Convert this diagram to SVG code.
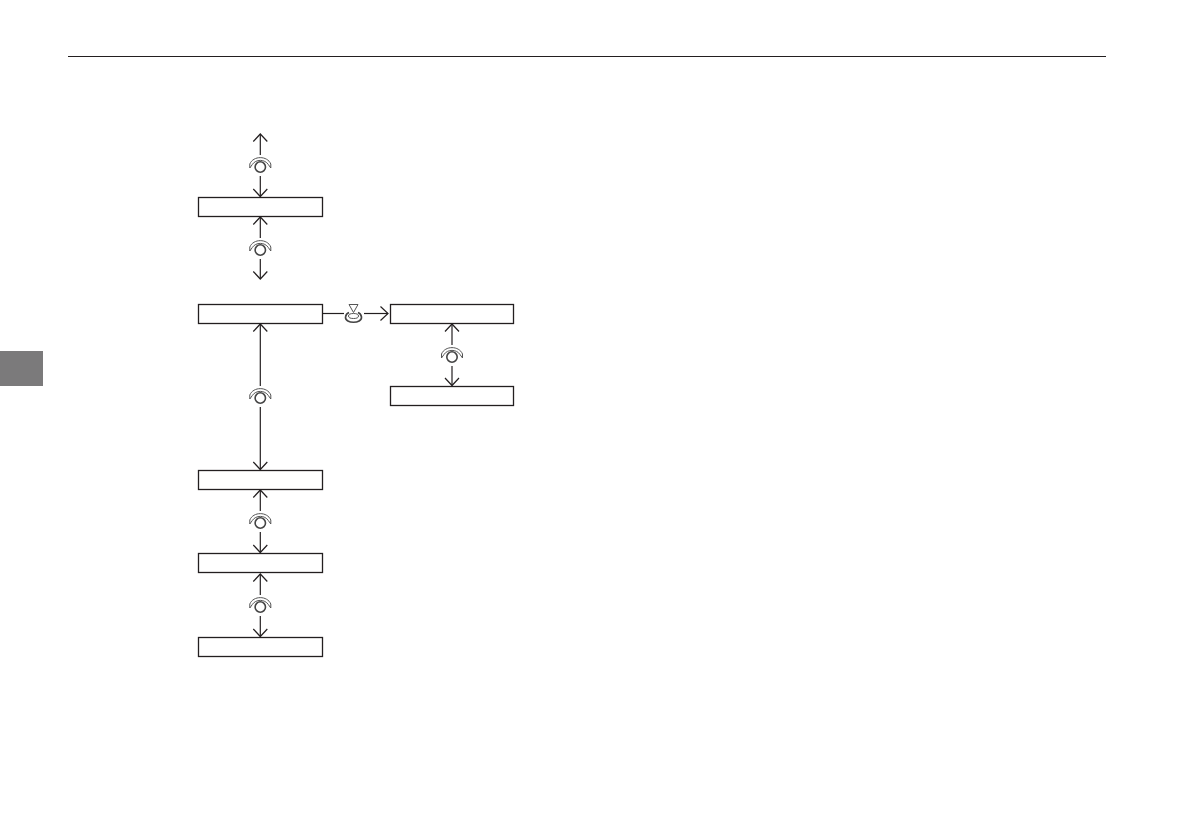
<svg xmlns="http://www.w3.org/2000/svg" width="1191" height="839" viewBox="0 0 1191 839">
<style>
.box{fill:#fff;stroke:#231f20;stroke-width:1.3}
.ln{fill:none;stroke:#231f20;stroke-width:1.2}
.ic{fill:none;stroke:#555;stroke-width:1}
.ic2{fill:none;stroke:#444;stroke-width:1.6}
</style>
<defs>
<marker id="arr" viewBox="-10 -8 11 16" refX="0" refY="0" markerWidth="11" markerHeight="16" markerUnits="userSpaceOnUse" orient="auto-start-reverse" overflow="visible"><path d="M-7.500 -7L0 0L-7.500 7" fill="none" stroke="#231f20" stroke-width="1.2"/></marker>
<g id="dial">
<circle class="ic2" cx="0" cy="0" r="5.200"/>
<path class="ic" d="M-10.500 -3C-7 -11.500 7 -11.500 10.500 -3M-8 -2.500C-4.500 -8 4.500 -8 8 -2.500M-10.500 -3L-10.500 1L-8 -2.500M10.500 -3L10.500 1L8 -2.500"/>
</g>
<g id="press">
<path class="ic" d="M-4.500 -9.500H4.500L0 -1.500Z"/>
<ellipse class="ic" cx="0" cy="2" rx="5" ry="2.500"/>
<path class="ic2" d="M-8 3C-8.500 10 8.500 10 8 3C7.500 0 6 -1 4.500 -1.500M-8 3C-7.500 0 -6 -1 -4.500 -1.500"/>
</g>
</defs>
<path d="M68 56.500H1106" stroke="#231f20" stroke-width="1" fill="none"/>
<rect x="0" y="351" width="43" height="35" fill="#7b7a7b"/>
<g id="connectors">
<path class="ln" marker-end="url(#arr)" d="M260.300 155V134"/>
<path class="ln" marker-end="url(#arr)" d="M260.300 176V196.500"/>
<path class="ln" marker-end="url(#arr)" d="M260.300 238V217"/>
<path class="ln" marker-end="url(#arr)" d="M260.300 259V279"/>
<path class="ln" marker-end="url(#arr)" d="M260.300 386V324"/>
<path class="ln" marker-end="url(#arr)" d="M260.300 407V469.500"/>
<path class="ln" marker-end="url(#arr)" d="M260.300 511V490"/>
<path class="ln" marker-end="url(#arr)" d="M260.300 532V552.500"/>
<path class="ln" marker-end="url(#arr)" d="M260.300 595V574"/>
<path class="ln" marker-end="url(#arr)" d="M260.300 616V636.500"/>
<path class="ln" d="M323 313.500H344"/>
<path class="ln" marker-end="url(#arr)" d="M364 313.500H388"/>
<path class="ln" marker-end="url(#arr)" d="M452 345V324"/>
<path class="ln" marker-end="url(#arr)" d="M452 366V385.500"/>
</g>
<g id="node-1"><rect class="box" x="198.500" y="197.500" width="124" height="19"/></g>
<g id="node-2"><rect class="box" x="198.500" y="304.500" width="124" height="19"/></g>
<g id="node-3"><rect class="box" x="198.500" y="470.500" width="124" height="19"/></g>
<g id="node-4"><rect class="box" x="198.500" y="553.500" width="124" height="19"/></g>
<g id="node-5"><rect class="box" x="198.500" y="637.500" width="124" height="19"/></g>
<g id="node-6"><rect class="box" x="390.500" y="304.500" width="123" height="19"/></g>
<g id="node-7"><rect class="box" x="390.500" y="386.500" width="123" height="19"/></g>
<g id="icons">
<use href="#dial" x="260.300" y="167"/>
<use href="#dial" x="260.300" y="250"/>
<use href="#dial" x="260.300" y="398"/>
<use href="#dial" x="260.300" y="523"/>
<use href="#dial" x="260.300" y="607"/>
<use href="#dial" x="452" y="357"/>
<use href="#press" x="353.500" y="314"/>
</g>
</svg>
